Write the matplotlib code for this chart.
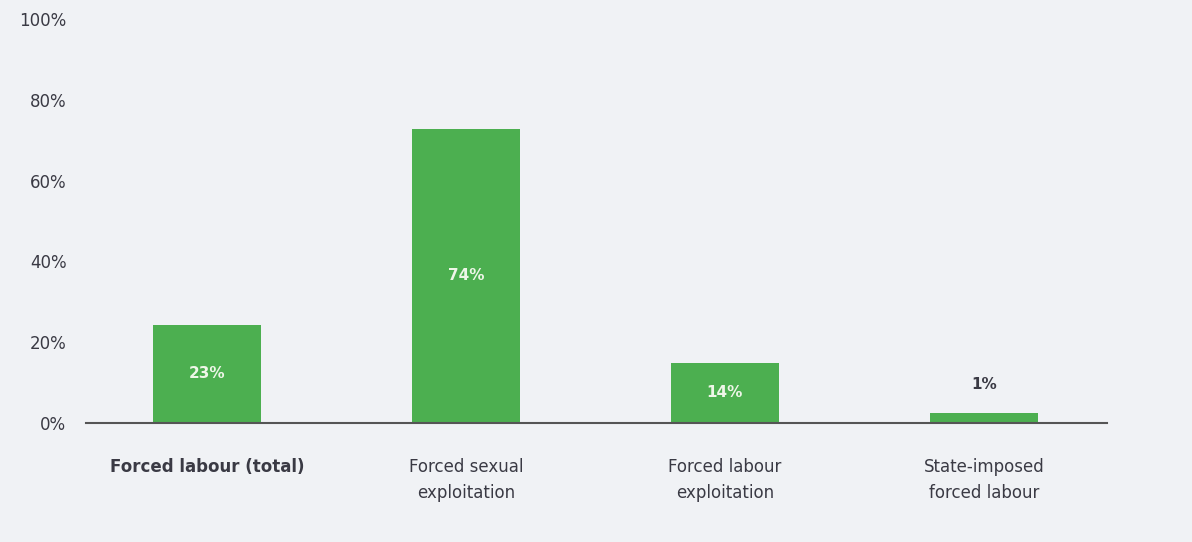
import matplotlib
import numpy as np

matplotlib.use("Agg")
import matplotlib.pyplot as plt

categories = ["Forced labour (total)", "Forced sexual\nexploitation",
              "Forced labour\nexploitation", "State-imposed\nforced labour"]
heights = [24.3, 72.8, 14.9, 2.5]
value_labels = ["23%", "74%", "14%", "1%"]
yticks = [0, 20, 40, 60, 80, 100]

bg = "#f0f2f5"
green = "#4caf50"
text_color = "#3a3a44"

plt.rcParams["font.family"] = ["DejaVu Sans"]

fig = plt.figure(figsize=(11.92, 5.42), dpi=100, facecolor=bg)
ax = fig.add_axes([0.0721, 0.2196, 0.8566, 0.7454])
ax.set_facecolor(bg)

x = np.arange(len(categories))
bars = ax.bar(x, heights, width=0.417, color=green, zorder=2)

for bar, h, lab in zip(bars, heights, value_labels):
    cx = bar.get_x() + bar.get_width() / 2
    if h > 10:
        ax.text(cx, h / 2, lab, ha="center", va="center", color="#eef6e8",
                fontsize=11, fontweight="bold", zorder=3)
    else:
        ax.text(cx, h + 7.0, lab, ha="center", va="center", color=text_color,
                fontsize=11, fontweight="bold", zorder=3)

ax.set_xlim(-0.467, 3.475)
ax.set_ylim(0, 100)
ax.set_yticks(yticks)
ax.set_yticklabels([f"{t}%" for t in yticks], fontsize=12, color=text_color)
ax.set_xticks(x)
ax.set_xticklabels(categories, fontsize=12, color=text_color, linespacing=1.6)
ax.get_xticklabels()[0].set_fontweight("bold")
ax.tick_params(axis="both", length=0)
ax.tick_params(axis="y", pad=14)
ax.tick_params(axis="x", pad=25)
for side in ["top", "right", "left"]:
    ax.spines[side].set_visible(False)
ax.spines["bottom"].set_color("#555555")
ax.spines["bottom"].set_linewidth(1.5)
ax.spines["bottom"].set_zorder(4)

fig.savefig("out.png", dpi=100, facecolor=bg)
